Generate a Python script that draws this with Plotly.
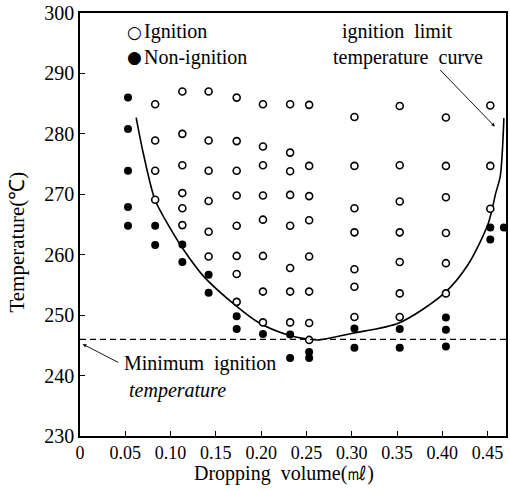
import plotly.graph_objects as go

# ---------------- data ----------------
IGN_X = ([0.083] * 4 + [0.113] * 6 + [0.142] * 6 + [0.173] * 8 + [0.202] * 8 +
         [0.232] * 8 + [0.253] * 8 + [0.303] * 7 + [0.353] * 7 + [0.404] * 6 + [0.453] * 3)
IGN_Y = [284.9, 278.9, 273.9, 269.1,
         287.0, 280.0, 274.8, 270.2, 267.7, 264.9,
         287.0, 278.9, 273.9, 268.9, 263.8, 259.7,
         286.0, 278.8, 273.9, 269.8, 264.8, 259.8, 256.8, 252.2,
         284.9, 277.9, 274.8, 269.8, 265.8, 259.8, 253.9, 248.8,
         284.9, 276.9, 273.8, 269.9, 264.8, 257.8, 253.9, 248.8,
         284.8, 274.7, 269.7, 265.7, 259.7, 253.9, 248.7, 245.9,
         282.8, 274.7, 267.7, 263.7, 257.6, 254.7, 249.7,
         284.6, 274.8, 268.8, 263.7, 258.8, 253.6, 249.7,
         282.7, 274.7, 269.5, 263.6, 258.6, 253.6,
         284.7, 274.7, 267.6]

NON_X = ([0.053] * 5 + [0.083] * 2 + [0.113] * 2 + [0.142] * 2 + [0.173] * 2 + [0.202] +
         [0.232] * 2 + [0.253] * 2 + [0.303] * 2 + [0.353] * 2 + [0.404] * 3 + [0.453] * 2 + [0.468])
NON_Y = [286.0, 280.8, 273.9, 267.9, 264.8,
         264.8, 261.6,
         261.7, 258.8,
         256.7, 253.7,
         249.8, 247.7,
         246.9,
         246.8, 242.9,
         243.9, 242.9,
         247.8, 244.6,
         247.7, 244.6,
         249.6, 247.6, 244.8,
         264.5, 262.5,
         264.5]

CURVE_X = [0.062, 0.070, 0.083, 0.0995, 0.114, 0.136, 0.171, 0.198, 0.228, 0.253,
           0.264, 0.301, 0.352, 0.402, 0.429, 0.451, 0.459, 0.464, 0.468]
CURVE_Y = [282.7, 276.7, 269.0, 264.4, 260.9, 256.5, 251.7, 248.7, 246.8, 246.0,
           245.9, 247.0, 248.7, 253.6, 258.5, 265.3, 270.2, 273.0, 282.6]

MIN_IGNITION = 246.0

X_TICKS = [0, 0.05, 0.10, 0.15, 0.20, 0.25, 0.30, 0.35, 0.40, 0.45]
X_TICK_LABELS = ["0", "0.05", "0.10", "0.15", "0.20", "0.25", "0.30", "0.35", "0.40", "0.45"]
Y_TICKS = [230, 240, 250, 260, 270, 280, 290, 300]
Y_TICK_LABELS = ["230", "240", "250", "260", "270", "280", "290", "300"]

# ---------------- layout geometry ----------------
W, H = 510, 491
ML, MR, MT, MB = 80, 2, 8, 55
PW, PH = W - ML - MR, H - MT - MB
SERIF = "Liberation Serif"


def px(xp):
    return (xp - ML) / PW


def py(yp):
    return (H - MB - yp) / PH


fig = go.Figure()

fig.add_trace(go.Scatter(x=CURVE_X, y=CURVE_Y, mode="lines",
                         line=dict(color="black", width=1.6, shape="spline", smoothing=0.8),
                         showlegend=False, hoverinfo="skip"))
fig.add_trace(go.Scatter(x=IGN_X, y=IGN_Y, mode="markers", name="Ignition",
                         marker=dict(symbol="circle", size=7, color="white",
                                     line=dict(color="black", width=1.6)),
                         showlegend=False))
fig.add_trace(go.Scatter(x=NON_X, y=NON_Y, mode="markers", name="Non-ignition",
                         marker=dict(symbol="circle", size=8, color="black",
                                     line=dict(color="black", width=0)),
                         showlegend=False))

fig.add_shape(type="line", xref="paper", yref="y", x0=0, x1=1,
              y0=MIN_IGNITION, y1=MIN_IGNITION,
              line=dict(color="black", width=1.3, dash="6px,4px"))

ann = []
# legend
ann.append(dict(text="○", x=px(135), y=py(27), xanchor="center", yanchor="middle",
                font=dict(size=17, family="DejaVu Sans")))
ann.append(dict(text="Ignition", x=px(142), y=py(27), xanchor="left", yanchor="middle",
                font=dict(size=20, family=SERIF)))
ann.append(dict(text="●", x=px(135), y=py(53), xanchor="center", yanchor="middle",
                font=dict(size=17, family="DejaVu Sans")))
ann.append(dict(text="Non-ignition", x=px(142), y=py(53), xanchor="left", yanchor="middle",
                font=dict(size=20, family=SERIF)))
# curve label
ann.append(dict(text="ignition  limit", x=px(341), y=py(27), xanchor="left", yanchor="middle",
                font=dict(size=20, family=SERIF)))
ann.append(dict(text="temperature  curve", x=px(332), y=py(53), xanchor="left", yanchor="middle",
                font=dict(size=20, family=SERIF)))
ann.append(dict(text="", xref="x", yref="y", x=0.458, y=281.2, ax=-56, ay=-58,
                showarrow=True, arrowhead=2, arrowsize=0.8, arrowwidth=0.9, arrowcolor="black"))
# minimum ignition label
ann.append(dict(text="Minimum  ignition", x=px(122), y=py(363), xanchor="left", yanchor="middle",
                font=dict(size=20, family=SERIF)))
ann.append(dict(text="<i>temperature</i>", x=px(127), y=py(390), xanchor="left", yanchor="middle",
                font=dict(size=20, family=SERIF)))
ann.append(dict(text="", xref="x", yref="y", x=0.003, y=245.2, ax=37, ay=19,
                showarrow=True, arrowhead=2, arrowsize=0.8, arrowwidth=0.9, arrowcolor="black"))
# axis titles
ann.append(dict(text="Dropping  volume(㎖)", x=px(285), y=py(474), xanchor="center", yanchor="middle",
                font=dict(size=20, family=SERIF)))
ann.append(dict(text="Temperature(℃)", x=px(17), y=py(240), xanchor="center", yanchor="middle",
                textangle=-90, font=dict(size=21, family=SERIF)))

for a in ann:
    a.setdefault("xref", "paper")
    a.setdefault("yref", "paper")
    a.setdefault("showarrow", False)
    a.setdefault("font", dict(size=20, family=SERIF))
    a["font"]["color"] = "black"
fig.update_layout(annotations=ann)

fig.update_layout(
    width=W, height=H,
    margin=dict(l=ML, r=MR, t=MT, b=MB),
    paper_bgcolor="white", plot_bgcolor="white",
    showlegend=False,
    font=dict(family=SERIF, color="black"),
    xaxis=dict(range=[0, PW / 910.0], tickvals=X_TICKS, ticktext=X_TICK_LABELS,
               showgrid=False, zeroline=False, showline=True, linecolor="black", linewidth=1.6,
               mirror=True, ticks="inside", ticklen=5, tickcolor="black", tickwidth=1,
               ticklabeloverflow="allow",
               tickfont=dict(size=18, family=SERIF, color="black")),
    yaxis=dict(range=[230, 300], tickvals=Y_TICKS, ticktext=Y_TICK_LABELS,
               showgrid=False, zeroline=False, showline=True, linecolor="black", linewidth=1.6,
               mirror=True, ticks="inside", ticklen=5, tickcolor="black", tickwidth=1,
               ticklabeloverflow="allow",
               tickfont=dict(size=20, family=SERIF, color="black")),
)

fig.write_html("out.html")
